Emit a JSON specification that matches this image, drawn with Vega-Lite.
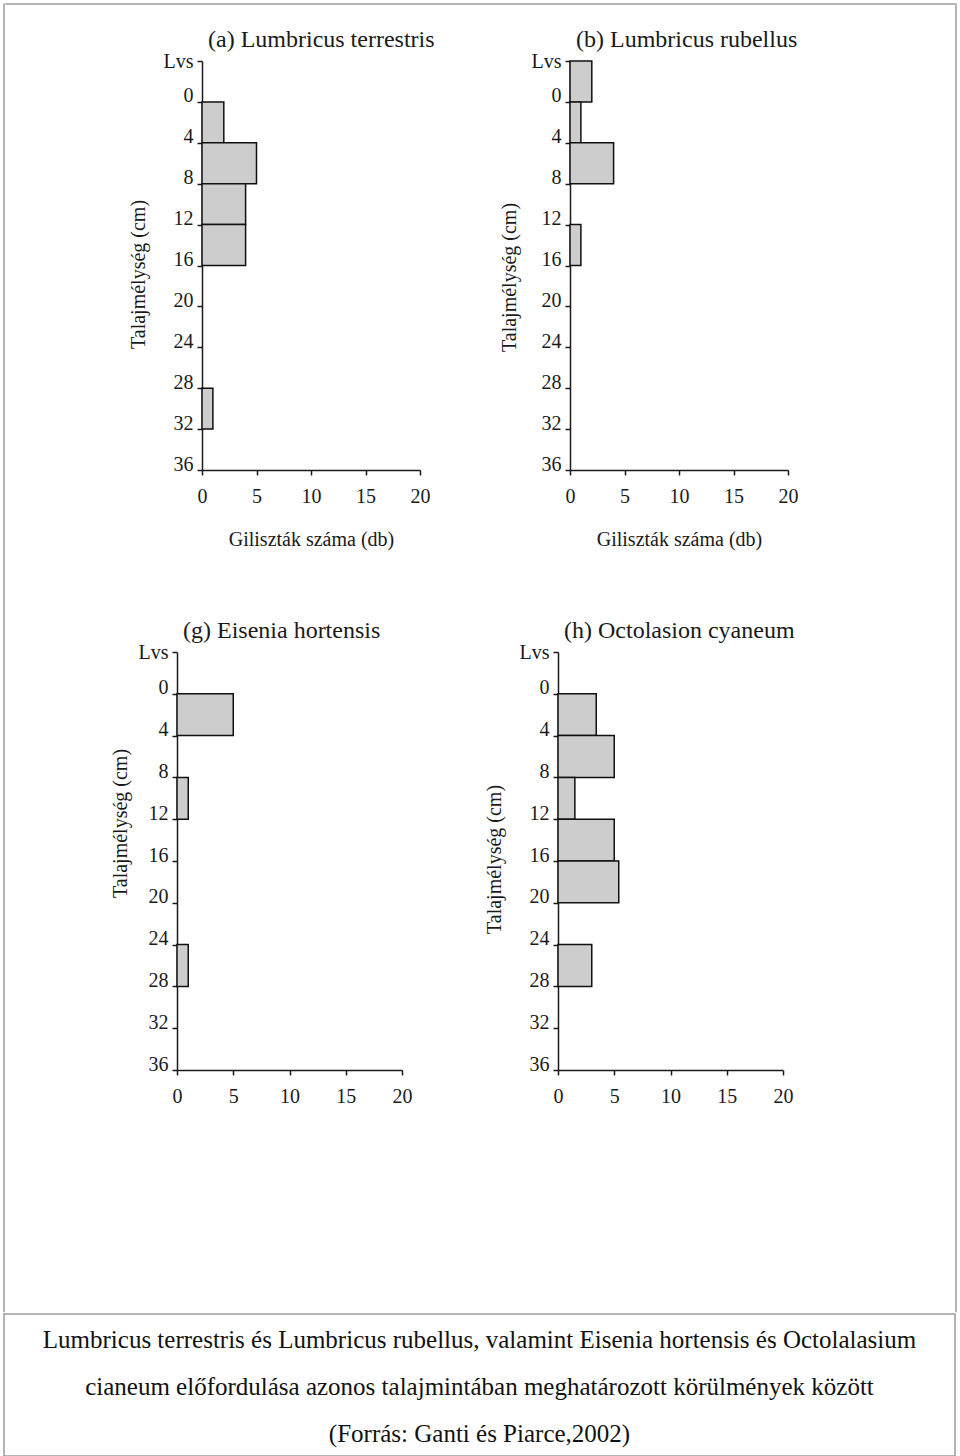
{
  "$schema": "https://vega.github.io/schema/vega-lite/v6.json",
  "background": "white",
  "padding": {"left": 3, "top": 3, "right": 3, "bottom": 1},
  "config": {
    "font": "Liberation Serif",
    "view": {"stroke": null},
    "axis": {
      "grid": false,
      "labelFlush": false,
      "labelOverlap": false,
      "domainColor": "#1a1a1a",
      "domainWidth": 1.5,
      "tickColor": "#1a1a1a",
      "tickWidth": 1.5,
      "tickSize": 5,
      "labelFont": "Liberation Serif",
      "labelFontSize": 20,
      "labelColor": "#1a1a1a",
      "titleFont": "Liberation Serif",
      "titleFontSize": 20,
      "titleFontWeight": "normal",
      "titleColor": "#1a1a1a"
    },
    "title": {
      "font": "Liberation Serif",
      "fontSize": 24,
      "fontWeight": "normal",
      "color": "#1a1a1a",
      "anchor": "start",
      "frame": "group",
      "baseline": "alphabetic",
      "dx": 6,
      "offset": -1
    }
  },
  "datasets": {
    "a": [
      {"layer": "0-4", "top": 0, "bottom": 4, "count": 2},
      {"layer": "4-8", "top": 4, "bottom": 8, "count": 5},
      {"layer": "8-12", "top": 8, "bottom": 12, "count": 4},
      {"layer": "12-16", "top": 12, "bottom": 16, "count": 4},
      {"layer": "28-32", "top": 28, "bottom": 32, "count": 1}
    ],
    "b": [
      {"layer": "Lvs", "top": -4, "bottom": 0, "count": 2},
      {"layer": "0-4", "top": 0, "bottom": 4, "count": 1},
      {"layer": "4-8", "top": 4, "bottom": 8, "count": 4},
      {"layer": "12-16", "top": 12, "bottom": 16, "count": 1}
    ],
    "g": [
      {"layer": "0-4", "top": 0, "bottom": 4, "count": 5},
      {"layer": "8-12", "top": 8, "bottom": 12, "count": 1},
      {"layer": "24-28", "top": 24, "bottom": 28, "count": 1}
    ],
    "h": [
      {"layer": "0-4", "top": 0, "bottom": 4, "count": 3.4},
      {"layer": "4-8", "top": 4, "bottom": 8, "count": 5},
      {"layer": "8-12", "top": 8, "bottom": 12, "count": 1.5},
      {"layer": "12-16", "top": 12, "bottom": 16, "count": 5},
      {"layer": "16-20", "top": 16, "bottom": 20, "count": 5.4},
      {"layer": "24-28", "top": 24, "bottom": 28, "count": 3}
    ],
    "caption": [
      {"line": 1, "text": "Lumbricus terrestris és Lumbricus rubellus, valamint Eisenia hortensis és Octolalasium"},
      {"line": 2, "text": "cianeum előfordulása azonos talajmintában meghatározott körülmények között"},
      {"line": 3, "text": "(Forrás: Ganti és Piarce,2002)"}
    ]
  },
  "spacing": 0,
  "vconcat": [
    {
      "spacing": 0,
      "hconcat": [
        {
          "width": 0.01,
          "height": 1307.5,
          "view": {"stroke": "#9c9c9c", "strokeWidth": 1.5},
          "data": {"values": []},
          "mark": {"type": "point", "opacity": 0}
        },
        {
          "spacing": 0,
          "vconcat": [
            {"width": 948.25, "height": 0.01, "view": {"stroke": "#9c9c9c", "strokeWidth": 1.5}, "data": {"values": []}, "mark": {"type": "point", "opacity": 0}},
            {"width": 1, "height": 22.8, "data": {"values": []}, "mark": {"type": "point", "opacity": 0}},
            {
              "bounds": "flush",
              "spacing": 150,
              "hconcat": [
                {"width": 45.2, "height": 1, "data": {"values": []}, "mark": {"type": "point", "opacity": 0}},
                {
                  "width": 218,
                  "height": 409,
                  "title": {"text": "(a) Lumbricus terrestris"},
                  "data": {"name": "a"},
                  "mark": {"type": "rect", "fill": "#cdcdcd", "stroke": "#111111", "strokeWidth": 1.5},
                  "encoding": {
                    "x": {"field": "count", "type": "quantitative", "scale": {"domain": [0, 20], "nice": false},
                      "axis": {"values": [0, 5, 10, 15, 20], "title": "Giliszták száma (db)", "titleY": 75, "titleBaseline": "alphabetic", "labelPadding": 11}},
                    "x2": {"datum": 0},
                    "y": {"field": "top", "type": "quantitative", "scale": {"domain": [-4, 36], "reverse": true, "nice": false},
                      "axis": {"values": [-4, 0, 4, 8, 12, 16, 20, 24, 28, 32, 36], "labelExpr": "datum.value == -4 ? 'Lvs' : datum.label",
                        "labelBaseline": {"condition": {"test": "datum.value == -4", "value": "middle"}, "value": "alphabetic"},
                        "labelPadding": 4, "title": "Talajmélység (cm)", "titleX": -58, "titleY": 213, "titleBaseline": "alphabetic"}},
                    "y2": {"field": "bottom"}
                  }
                },
                {
                  "width": 218,
                  "height": 409,
                  "title": {"text": "(b) Lumbricus rubellus"},
                  "data": {"name": "b"},
                  "mark": {"type": "rect", "fill": "#cdcdcd", "stroke": "#111111", "strokeWidth": 1.5},
                  "encoding": {
                    "x": {"field": "count", "type": "quantitative", "scale": {"domain": [0, 20], "nice": false},
                      "axis": {"values": [0, 5, 10, 15, 20], "title": "Giliszták száma (db)", "titleY": 75, "titleBaseline": "alphabetic", "labelPadding": 11}},
                    "x2": {"datum": 0},
                    "y": {"field": "top", "type": "quantitative", "scale": {"domain": [-4, 36], "reverse": true, "nice": false},
                      "axis": {"values": [-4, 0, 4, 8, 12, 16, 20, 24, 28, 32, 36], "labelExpr": "datum.value == -4 ? 'Lvs' : datum.label",
                        "labelBaseline": {"condition": {"test": "datum.value == -4", "value": "middle"}, "value": "alphabetic"},
                        "labelPadding": 4, "title": "Talajmélység (cm)", "titleX": -55, "titleY": 216, "titleBaseline": "alphabetic"}},
                    "y2": {"field": "bottom"}
                  }
                }
              ]
            },
            {"width": 1, "height": 69.4, "data": {"values": []}, "mark": {"type": "point", "opacity": 0}},
            {
              "bounds": "flush",
              "spacing": 156,
              "hconcat": [
                {"width": 14.2, "height": 1, "data": {"values": []}, "mark": {"type": "point", "opacity": 0}},
                {
                  "width": 225,
                  "height": 418,
                  "title": {"text": "(g) Eisenia hortensis"},
                  "data": {"name": "g"},
                  "mark": {"type": "rect", "fill": "#cdcdcd", "stroke": "#111111", "strokeWidth": 1.5},
                  "encoding": {
                    "x": {"field": "count", "type": "quantitative", "scale": {"domain": [0, 20], "nice": false},
                      "axis": {"values": [0, 5, 10, 15, 20], "title": null, "labelPadding": 11}},
                    "x2": {"datum": 0},
                    "y": {"field": "top", "type": "quantitative", "scale": {"domain": [-4, 36], "reverse": true, "nice": false},
                      "axis": {"values": [-4, 0, 4, 8, 12, 16, 20, 24, 28, 32, 36], "labelExpr": "datum.value == -4 ? 'Lvs' : datum.label",
                        "labelBaseline": {"condition": {"test": "datum.value == -4", "value": "middle"}, "value": "alphabetic"},
                        "labelPadding": 4, "title": "Talajmélység (cm)", "titleX": -51, "titleY": 171, "titleBaseline": "alphabetic"}},
                    "y2": {"field": "bottom"}
                  }
                },
                {
                  "width": 225,
                  "height": 418,
                  "title": {"text": "(h) Octolasion cyaneum"},
                  "data": {"name": "h"},
                  "mark": {"type": "rect", "fill": "#cdcdcd", "stroke": "#111111", "strokeWidth": 1.5},
                  "encoding": {
                    "x": {"field": "count", "type": "quantitative", "scale": {"domain": [0, 20], "nice": false},
                      "axis": {"values": [0, 5, 10, 15, 20], "title": null, "labelPadding": 11}},
                    "x2": {"datum": 0},
                    "y": {"field": "top", "type": "quantitative", "scale": {"domain": [-4, 36], "reverse": true, "nice": false},
                      "axis": {"values": [-4, 0, 4, 8, 12, 16, 20, 24, 28, 32, 36], "labelExpr": "datum.value == -4 ? 'Lvs' : datum.label",
                        "labelBaseline": {"condition": {"test": "datum.value == -4", "value": "middle"}, "value": "alphabetic"},
                        "labelPadding": 4, "title": "Talajmélység (cm)", "titleX": -58, "titleY": 207, "titleBaseline": "alphabetic"}},
                    "y2": {"field": "bottom"}
                  }
                }
              ]
            }
          ]
        },
        {
          "width": 0.01,
          "height": 1307.5,
          "view": {"stroke": "#9c9c9c", "strokeWidth": 1.5},
          "data": {"values": []},
          "mark": {"type": "point", "opacity": 0}
        }
      ]
    },
    {
      "width": 951,
      "height": 142,
      "view": {"stroke": "#9c9c9c", "strokeWidth": 1.5},
      "data": {"name": "caption"},
      "mark": {"type": "text", "font": "Liberation Serif", "fontSize": 25, "baseline": "alphabetic", "align": "center", "dy": 10.1, "color": "#111111"},
      "encoding": {
        "y": {"field": "line", "type": "ordinal", "axis": null, "scale": {"type": "point", "padding": 0.523}},
        "text": {"field": "text"}
      }
    }
  ]
}
